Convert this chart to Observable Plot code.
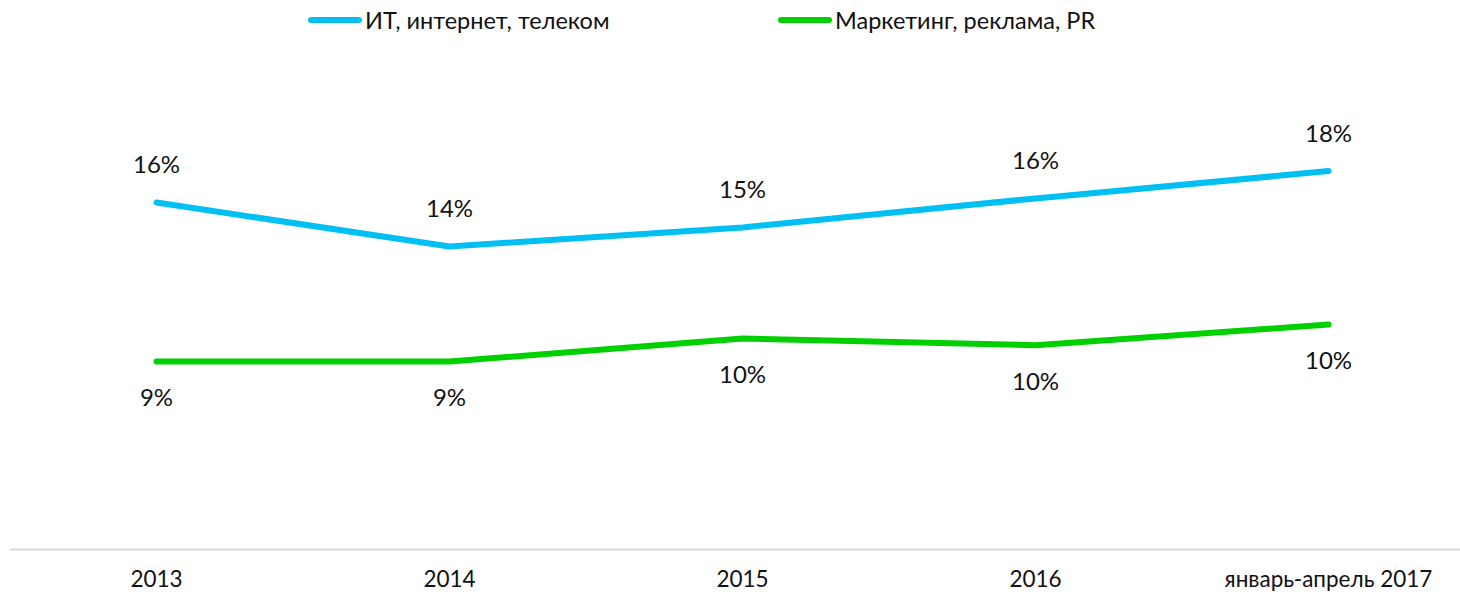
<!DOCTYPE html>
<html>
<head>
<meta charset="utf-8">
<script src="https://cdn.jsdelivr.net/npm/d3@7"></script>
<script src="https://cdn.jsdelivr.net/npm/@observablehq/plot@0.6"></script>
<style>
  html, body { margin: 0; padding: 0; background: #fff; }
  body { width: 1460px; height: 592px; overflow: hidden; font-family: Lato, "Open Sans", sans-serif; }
  #legend { height: 40px; position: relative; }
  .item { position: absolute; top: 0; height: 40px; display: flex; align-items: center; font-size: 23.5px; color: #111; white-space: nowrap; }
  .sw { flex: none; width: 54px; height: 6px; border-radius: 3px; margin-right: 3px; }
</style>
</head>
<body>
<div id="legend"></div>
<div id="chart"></div>
<script>
const categories = ["2013", "2014", "2015", "2016", "январь-апрель 2017"];
const seriesNames = ["ИТ, интернет, телеком", "Маркетинг, реклама, PR"];
const seriesColors = ["#00bff3", "#00d000"];
const itValues = [16.14, 14.09, 14.98, 16.33, 17.6];
const marketingValues = [8.74, 8.74, 9.81, 9.5, 10.46];

const data = [];
categories.forEach((c, i) => {
  data.push({cat: c, series: seriesNames[0], value: itValues[i]});
  data.push({cat: c, series: seriesNames[1], value: marketingValues[i]});
});

// legend
const legendLefts = [308, 778];
const legend = document.getElementById("legend");
seriesNames.forEach((name, i) => {
  const item = document.createElement("div");
  item.className = "item";
  item.style.left = legendLefts[i] + "px";
  const sw = document.createElement("div");
  sw.className = "sw";
  sw.style.background = seriesColors[i];
  const t = document.createElement("span");
  t.textContent = name;
  item.appendChild(sw);
  item.appendChild(t);
  legend.appendChild(item);
});

const chart = Plot.plot({
  width: 1460,
  height: 552,
  marginLeft: 10,
  marginRight: 0,
  marginTop: 79,
  marginBottom: 43,
  style: {fontFamily: "Lato, 'Open Sans', sans-serif", background: "#fff"},
  x: {type: "point", domain: categories, range: [155, 1328], padding: 0, label: null},
  y: {domain: [0, 20], axis: null},
  color: {domain: seriesNames, range: seriesColors},
  marks: [
    Plot.ruleY([0], {stroke: "#d9d9d9", strokeWidth: 2}),
    Plot.axisX({tickSize: 0, tickPadding: 22, fontSize: 22.5, fill: "#111", label: null}),
    Plot.line(data, {x: "cat", y: "value", z: "series", stroke: "series", strokeWidth: 6, strokeLinecap: "round", strokeLinejoin: "round"}),
    Plot.text(data.filter(d => d.series === seriesNames[0]), {x: "cat", y: "value", text: d => Math.round(d.value) + "%", dy: -37, fontSize: 24, fill: "#111"}),
    Plot.text(data.filter(d => d.series === seriesNames[1]), {x: "cat", y: "value", text: d => Math.round(d.value) + "%", dy: 37, fontSize: 24, fill: "#111"})
  ]
});
document.getElementById("chart").appendChild(chart);
</script>
</body>
</html>
